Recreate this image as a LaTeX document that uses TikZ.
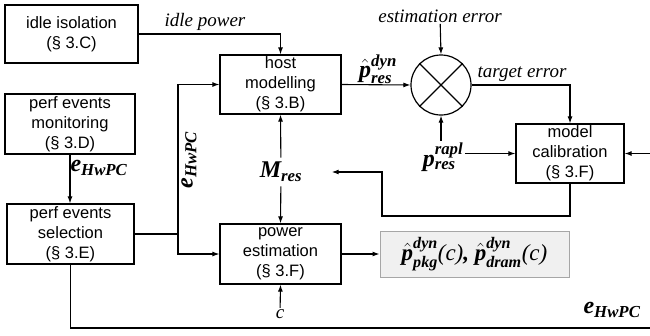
\documentclass[tikz,border=0pt]{standalone}
\usepackage{fontspec}
\usepackage{amsmath}
\setmainfont{Liberation Sans}
\newfontfamily\tnr{Liberation Serif}
\usetikzlibrary{arrows.meta,calc}
\newcommand\bi[1]{\text{\tnr\bfseries\itshape #1}}
\newcommand\ii[1]{\text{\tnr\itshape #1}}

\begin{document}
\begin{tikzpicture}[
  x=1pt, y=-1pt,
  >={Latex[length=7pt,width=5pt]},
  line width=1.1pt,
  block/.style={
    draw,
    line width=1.2pt,
    align=center,
    inner sep=0pt,
    font=\fontsize{16.5}{20}\selectfont
  },
  lbl/.style={inner sep=1pt, font=\tnr\itshape\fontsize{19}{22}\selectfont},
  sym/.style={inner sep=1pt, font=\fontsize{24}{28}\selectfont}
]
\useasboundingbox (0,0) rectangle (650,335);

% blocks
\node[block,minimum width=133pt,minimum height=58pt] (idle) at (71.5,34) {idle isolation\\(§ 3.C)};
\node[block,minimum width=121pt,minimum height=59pt] (host) at (280.5,84.5) {host\\modelling\\(§ 3.B)};
\node[block,minimum width=130pt,minimum height=60pt] (mon) at (70,124) {perf events\\monitoring\\(§ 3.D)};
\node[block,minimum width=127pt,minimum height=60pt] (sel) at (70.5,234) {perf events\\selection\\(§ 3.E)};
\node[block,minimum width=121pt,minimum height=60pt] (pow) at (280.5,254) {power\\estimation\\(§ 3.F)};
\node[block,minimum width=108pt,minimum height=59pt] (calib) at (570,153.5) {model\\calibration\\(§ 3.F)};
\node[sym,draw=gray!70,fill=gray!12,line width=1pt,minimum width=189pt,minimum height=46pt,font=\fontsize{23}{27}\selectfont] (out) at (474.5,254)
  {$\hat{\bi{p}}^{\bi{dyn}}_{\bi{pkg}}\ii{(c)}\bi{, }\hat{\bi{p}}^{\bi{dyn}}_{\bi{dram}}\ii{(c)}$};
\node[draw,circle,line width=1.2pt,minimum size=60pt] (mix) at (441,85) {};
\draw (mix.north west) -- (mix.south east);
\draw (mix.north east) -- (mix.south west);

% labels
\node[lbl] (idlepow) at (205,22) {idle power};
\node[lbl] (esterr) at (440,16) {estimation error};
\node[lbl] (tgterr) at (522,74) {target error};
\node[lbl] (cin) at (280,314) {c};
\node[sym] (phat) at (378,69) {$\hat{\bi{p}}^{\bi{dyn}}_{\bi{res}}$};
\node[sym] (prapl) at (443,157) {$\bi{p}^{\bi{rapl}}_{\bi{res}}$};
\node[sym,inner sep=4pt] (Mres) at (281,172) {$\bi{M}_{\bi{res}}$};
\node[sym,anchor=west] (ehwa) at (69,168) {$\bi{e}_{\bi{HwPC}}$};
\node[sym,rotate=90] (ehwb) at (189,160) {$\bi{e}_{\bi{HwPC}}$};
\node[sym] (ehwc) at (612,310) {$\bi{e}_{\bi{HwPC}}$};

% connectors
\coordinate (jn) at (178,234);
\draw[->] (idle.east) -| (host.north);
\draw[->] (mon.south) -- (mon.south |- sel.north);
\draw (sel.east) -- (jn);
\draw[->] (jn) |- (host.west);
\draw[->] (jn) |- (pow.west);
\draw[->] (host.east) -- (mix.west);
\draw[->] (esterr) -- (mix.north);
\draw[->] (mix.south |- prapl.north) -- (mix.south);
\draw[->] (prapl.east |- calib.west) -- (calib.west);
\draw[->] (mix.east) -| (calib.north);
\draw[->] (calib.south) |- (382,216) |- ([xshift=25pt]Mres.east);
\draw[->] (Mres) -- (host.south);
\draw[->] (Mres) -- (pow.north);
\draw[->] (cin) -- (pow.south);
\draw[->] (pow.east) -- (out.west);
\draw[->] (sel.south) |- (660,328) |- (calib.east);
\end{tikzpicture}
\end{document}
